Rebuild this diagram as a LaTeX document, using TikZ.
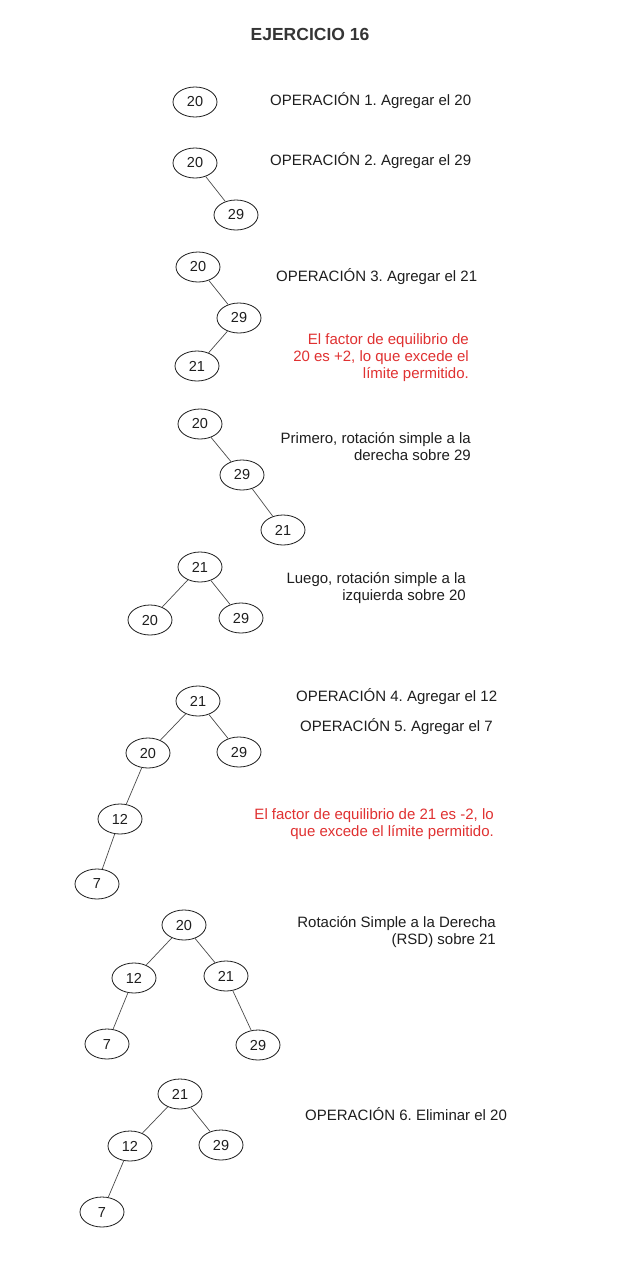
\documentclass[tikz,border=0pt]{standalone}
\usepackage{fontspec}
\setmainfont{Liberation Sans}
\usetikzlibrary{shapes.geometric}
\definecolor{ink}{HTML}{1E1E1E}
\definecolor{redink}{HTML}{E03131}
\frenchspacing
\begin{document}
\begin{tikzpicture}[x=1pt,y=-1pt,
  tn/.style={draw=ink,ellipse,line width=0.8pt,minimum width=44pt,minimum height=30pt,inner sep=0pt,text=ink,font=\fontsize{14.5}{17}\selectfont},
  edge/.style={draw=ink!80,line width=0.7pt},
  lbl/.style={text=ink,font=\fontsize{15}{17}\selectfont,inner sep=0pt,anchor=west},
  note/.style={font=\fontsize{15}{17}\selectfont,inner sep=0pt,anchor=east,align=right},
]
\useasboundingbox (0,0) rectangle (620,1264);
\fill[white] (0,0) rectangle (620,1264);
\node[text=ink!90,font=\fontsize{17.5}{20}\bfseries\selectfont] (title) at (310,34) {EJERCICIO 16};

% Tree 1
\node[tn] (a1) at (195,102) {20};
\node[lbl] (t1) at (270,101) {OPERACIÓN 1. Agregar el 20};

% Tree 2
\node[tn] (b1) at (195,163) {20};
\node[tn] (b2) at (236,215) {29};
\draw[edge] (b1) -- (b2);
\node[lbl] (t2) at (270,161) {OPERACIÓN 2. Agregar el 29};

% Tree 3
\node[tn] (c1) at (198,267) {20};
\node[tn] (c2) at (239,318) {29};
\node[tn] (c3) at (197,366) {21};
\draw[edge] (c1) -- (c2);
\draw[edge] (c2) -- (c3);
\node[lbl] (t3) at (276,277) {OPERACIÓN 3. Agregar el 21};
\node[note,text=redink] (r1) at (469,358) {El factor de equilibrio de\\20 es +2, lo que excede el\\límite permitido.};

% Tree 4
\node[tn] (d1) at (200,424) {20};
\node[tn] (d2) at (242,475) {29};
\node[tn] (d3) at (283,530) {21};
\draw[edge] (d1) -- (d2);
\draw[edge] (d2) -- (d3);
\node[note,text=ink] (t4) at (471,446.5) {Primero, rotación simple a la\\derecha sobre 29};

% Tree 5
\node[tn] (e1) at (200,567) {21};
\node[tn] (e2) at (150,620) {20};
\node[tn] (e3) at (241,618) {29};
\draw[edge] (e1) -- (e2);
\draw[edge] (e1) -- (e3);
\node[note,text=ink] (t5) at (466,588) {Luego, rotación simple a la\\izquierda sobre 20};

% Tree 6
\node[tn] (f1) at (198,701) {21};
\node[tn] (f2) at (148,753) {20};
\node[tn] (f3) at (239,752) {29};
\node[tn] (f4) at (120,819) {12};
\node[tn] (f5) at (97,884) {7};
\draw[edge] (f1) -- (f2);
\draw[edge] (f1) -- (f3);
\draw[edge] (f2) -- (f4);
\draw[edge] (f4) -- (f5);
\node[lbl] (t6) at (296,697) {OPERACIÓN 4. Agregar el 12};
\node[lbl] (t7) at (300,727) {OPERACIÓN 5. Agregar el 7};
\node[note,text=redink] (r2) at (494,824.5) {El factor de equilibrio de 21 es -2, lo\\que excede el límite permitido.};

% Tree 7
\node[tn] (g1) at (184,925) {20};
\node[tn] (g2) at (134,978) {12};
\node[tn] (g3) at (226,976) {21};
\node[tn] (g4) at (107,1044) {7};
\node[tn] (g5) at (258,1045) {29};
\draw[edge] (g1) -- (g2);
\draw[edge] (g1) -- (g3);
\draw[edge] (g2) -- (g4);
\draw[edge] (g3) -- (g5);
\node[note,text=ink] (t8) at (496,932.5) {Rotación Simple a la Derecha\\(RSD) sobre 21};

% Tree 8
\node[tn] (h1) at (180,1094) {21};
\node[tn] (h2) at (130,1146) {12};
\node[tn] (h3) at (221,1145) {29};
\node[tn] (h4) at (102,1212) {7};
\draw[edge] (h1) -- (h2);
\draw[edge] (h1) -- (h3);
\draw[edge] (h2) -- (h4);
\node[lbl] (t9) at (305,1114) {OPERACIÓN 6. Eliminar el 20};
\end{tikzpicture}
\end{document}
